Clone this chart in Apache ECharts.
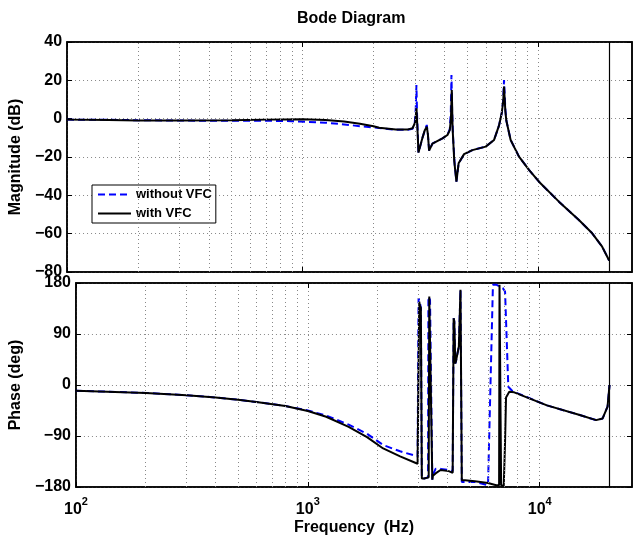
<!DOCTYPE html>
<html><head><meta charset="utf-8">
<script src="https://cdn.jsdelivr.net/npm/echarts@6/dist/echarts.min.js"></script>
<style>html,body{margin:0;padding:0;background:#fff}#c{width:636px;height:541px}</style>
</head><body><div id="c"></div>
<script>
// ---- data ----
const seriesNames = ['without VFC', 'with VFC'];
const xTickValues = [100, 1000, 10000];
const minorGridFreqs = [200,300,400,500,600,700,800,900,2000,3000,4000,5000,6000,7000,8000,9000,20000];
const nyquistFreq = [20000];
const magTicks = [-80, -60, -40, -20, 0, 20, 40];
const phaseTicks = [-180, -90, 0, 90, 180];

// Magnitude, without VFC (dB)
const magFreqWithout = [100,150,200,300,500,700,900,1250,1500,1750,2000,2113,2486,2800,2926,2990,3020,3040,3060,3102,3225,3300,3365,3400,3442,3556,3922,4118,4213,4254,4282,4310,4352,4420,4495,4592,4843,5254,5984,6494,6818,7000,7100,7157,7250,7320,7636,8284,9134,10070,12240,14880,16944,18675,20000];
const magWithout = [-0.5,-0.6,-0.8,-1.0,-1.1,-1.1,-1.3,-2.1,-3.0,-3.9,-4.6,-4.9,-5.8,-5.8,-5.3,-2.5,5,17.6,2,-17.7,-10,-6,-3.3,-8,-16.7,-13,-10.3,-8.5,-5.5,3,22.8,4,-10,-24,-32.9,-23.3,-18.5,-16.4,-14.6,-11.1,-3.5,3,10,20.2,5,-1,-11.1,-19.8,-26.7,-32.9,-43.3,-52.9,-59.8,-66.8,-74];

// Magnitude, with VFC (dB)
const magFreqWith = [100,150,200,300,500,700,1000,1250,1500,1750,2000,2113,2486,2800,2926,3003,3043,3070,3102,3225,3300,3365,3400,3442,3556,3922,4118,4213,4260,4296,4330,4400,4495,4592,4843,5254,5984,6494,6818,7000,7100,7157,7250,7320,7636,8284,9134,10070,12240,14880,16944,18675,20000];
const magWith = [-0.5,-0.7,-0.9,-1.0,-0.8,-0.5,-0.3,-0.7,-1.5,-2.6,-4.0,-4.7,-5.7,-5.6,-5.0,-2,5.4,-5,-17.7,-10,-6,-4.2,-8,-16.7,-13,-10.3,-8.5,-6,0,15,-5,-22,-32.9,-23.3,-18.5,-16.4,-14.6,-11.1,-3.5,3,9,16.7,4,-1,-11.1,-19.8,-26.7,-32.9,-43.3,-52.9,-59.8,-66.8,-74];

// Phase, without VFC (deg)
const phaseFreqWithout = [100,200,300,400,500,600,800,1000,1200,1500,1800,2113,2500,2974,3003,3023,3043,3072,3102,3173,3300,3311,3332,3365,3398,3442,3464,3556,3735,4052,4213,4254,4282,4324,4352,4480,4553,4613,4765,5254,5984,6023,6284,6494,6929,7088,7320,7636,10745,14880,17504,18675,19612,20000];
const phaseWithout = [-10,-14,-18,-22,-26,-30,-37,-45,-54,-70,-86,-106,-117,-126,153,153,145,136,-165,-165,-163,156,156,150,150,-167,-158,-148,-148,-150,-152,118,112,38,42,68,168,-171,-171,-171,-177,-179,177,177,171,165,-3,-11,-36,-53,-62,-59,-38,0];

// Phase, with VFC (deg)
const phaseFreqWith = [100,200,300,400,500,600,800,1000,1200,1500,1800,2113,2500,2974,3003,3023,3043,3072,3102,3173,3320,3340,3365,3398,3442,3464,3556,3735,4052,4213,4254,4282,4324,4352,4480,4553,4613,4765,5254,5984,6494,6680,6708,6818,6997,7088,7157,7392,7762,10745,14880,17504,18675,19612,20000];
const phaseWith = [-10,-14,-18,-22,-26,-30,-37,-46,-56,-74,-92,-112,-126,-139,-139,147,140,136,-165,-165,-163,156,153,153,-167,-160,-156,-150,-152,-155,118,112,38,42,68,168,-168,-168,-170,-173,-177,-177,177,-177,-178,-100,-22,-12,-13,-36,-53,-62,-59,-38,0];

// ---- chart ----
const zip = (f, v) => f.map((x, i) => [x, v[i]]);
const FONT = 'Liberation Sans, Arial, Helvetica, sans-serif';
const txt = (size) => ({fontFamily: FONT, fontWeight: 'bold', fontSize: size, color: '#000'});
const dotted = {type: [1, 3], color: '#888', width: 1};
const minus = v => String(v).replace('-', '\u2212');

function xAxisCfg(gi, showLabels, pos) {
  return {
    type: 'log', logBase: 10, gridIndex: gi, min: 100, max: 25000, position: pos,
    axisLine: {show: true, onZero: false, lineStyle: {color: '#000', width: 1.5}},
    axisTick: {show: true, inside: true, length: 5, lineStyle: {color: '#000'},
      customValues: xTickValues},
    splitLine: {show: pos === 'bottom', lineStyle: dotted},
    axisLabel: {
      show: showLabels, margin: 9,
      customValues: xTickValues,
      formatter: v => {
        const e = Math.log10(v);
        return Math.abs(e - Math.round(e)) < 1e-6 ? '{b|10}{s|' + Math.round(e) + '}' : '';
      },
      rich: {
        b: Object.assign(txt(16), {lineHeight: 22, verticalAlign: 'bottom'}),
        s: Object.assign(txt(11), {lineHeight: 11, verticalAlign: 'top'})
      }
    },
    name: showLabels ? 'Frequency  (Hz)' : '',
    nameLocation: 'middle', nameGap: 33, nameTextStyle: txt(16)
  };
}
function yAxisCfg(gi, min, max, interval, ticks, name, pos) {
  const left = pos === 'left';
  return {
    type: 'value', gridIndex: gi, min, max, interval, position: pos,
    axisLine: {show: true, lineStyle: {color: '#000', width: 1.5}},
    axisTick: {show: true, inside: true, length: 5, lineStyle: {color: '#000'}},
    splitLine: {show: left, lineStyle: dotted},
    axisLabel: Object.assign(txt(16), {show: left, margin: 5, formatter: v => ticks.includes(v) ? minus(v) : ''}),
    name: left ? name : '', nameLocation: 'middle', nameGap: 36, nameTextStyle: txt(16)
  };
}
const minorMarks = {
  silent: true, symbol: 'none', animation: false,
  label: {show: false}, lineStyle: dotted,
  data: minorGridFreqs.map(f => ({xAxis: f}))
};
const nyqMarks = {
  silent: true, symbol: 'none', animation: false,
  label: {show: false}, lineStyle: {type: 'solid', color: '#000', width: 1.2},
  data: nyquistFreq.map(f => ({xAxis: f}))
};
const blueStyle = {color: '#0000ff', width: 2, type: [7, 4]};
const blackStyle = {color: '#000000', width: 2, type: 'solid'};

const option = {
  animation: false,
  backgroundColor: '#fff',
  title: {text: 'Bode Diagram', left: 292, top: 6, textStyle: txt(16)},
  legend: {
    data: seriesNames, orient: 'vertical', left: 92, top: 185,
    backgroundColor: '#fff', borderColor: '#000', borderWidth: 1,
    padding: [3, 4, 3, 5], itemWidth: 33, itemHeight: 14, itemGap: 6,
    itemStyle: {opacity: 0},
    textStyle: txt(13)
  },
  grid: [
    {left: 67, top: 42, width: 565, height: 230, show: true, borderColor: '#000', borderWidth: 1.5},
    {left: 67, top: 283, width: 565, height: 204, show: true, borderColor: '#000', borderWidth: 1.5}
  ],
  xAxis: [xAxisCfg(0, false, 'bottom'), xAxisCfg(1, true, 'bottom'), xAxisCfg(0, false, 'top'), xAxisCfg(1, false, 'top')],
  yAxis: [
    yAxisCfg(0, -80, 40, 20, magTicks, 'Magnitude (dB)', 'left'),
    yAxisCfg(1, -180, 180, 90, phaseTicks, 'Phase (deg)', 'left'),
    yAxisCfg(0, -80, 40, 20, magTicks, '', 'right'),
    yAxisCfg(1, -180, 180, 90, phaseTicks, '', 'right')
  ],
  series: [
    {name: seriesNames[0], type: 'line', xAxisIndex: 0, yAxisIndex: 0, symbol: 'none', showSymbol: false,
      color: '#0000ff', lineStyle: blueStyle, data: zip(magFreqWithout, magWithout), markLine: minorMarks, z: 3},
    {name: seriesNames[1], type: 'line', xAxisIndex: 0, yAxisIndex: 0, symbol: 'none', showSymbol: false,
      color: '#000', lineStyle: blackStyle, data: zip(magFreqWith, magWith), markLine: nyqMarks, z: 4},
    {name: seriesNames[0], type: 'line', xAxisIndex: 1, yAxisIndex: 1, symbol: 'none', showSymbol: false,
      color: '#0000ff', lineStyle: blueStyle, data: zip(phaseFreqWithout, phaseWithout), markLine: minorMarks, z: 3},
    {name: seriesNames[1], type: 'line', xAxisIndex: 1, yAxisIndex: 1, symbol: 'none', showSymbol: false,
      color: '#000', lineStyle: blackStyle, data: zip(phaseFreqWith, phaseWith), markLine: nyqMarks, z: 4}
  ]
};
const chart = echarts.init(document.getElementById('c'), null, {renderer: 'canvas'});
chart.setOption(option);
</script></body></html>
